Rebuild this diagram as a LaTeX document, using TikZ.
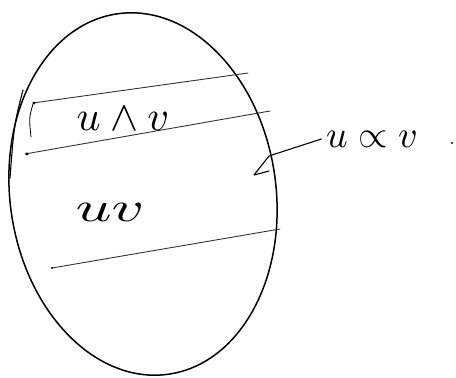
\documentclass[tikz,border=0pt]{standalone}
\usepackage{amsmath}
\begin{document}
\begin{tikzpicture}[x=1pt,y=-1pt,line cap=round,line join=round]
  \useasboundingbox (0,0) rectangle (456,378);
  \tikzset{hand/.style={scale=4.2,inner sep=0pt}}
  % the egg
  \draw[line width=1.5pt,rotate around={8:(143,194)}] (143,194) ellipse (133 and 182);
  \draw[line width=1.1pt] (23,90) .. controls (14,125) .. (10,178);
  \draw[line width=0.8pt] (33,104) .. controls (29,118) .. (31,137);
  % cuts
  \draw[line width=0.9pt,black!80] (33,103) -- (248,73);
  \draw[line width=0.9pt,black!80] (25,154) -- (270,111);
  \draw[line width=0.9pt,black!80] (52,268) -- (280,229);
  \fill (34,103) circle (1.6pt); \fill (27,154) circle (1.6pt);
  \fill (52,268) circle (1.2pt);
  % labels
  \node[hand] (uandv) at (123,119) {\(u\wedge v\)};
  \node[hand,xscale=1.5] (uv) at (110,212) {\(uv\)};
  \node[hand,scale=0.9] (uorv) at (372,139) {\(u\propto v\)};
  \fill (452,143) circle (1.1pt);
  \coordinate (tip) at (269,156);
  \draw[line width=1.1pt] (uorv.west) ++(-4,0) -- (tip) -- ++(-15,19) -- ++(15,-4);
\end{tikzpicture}
\end{document}
